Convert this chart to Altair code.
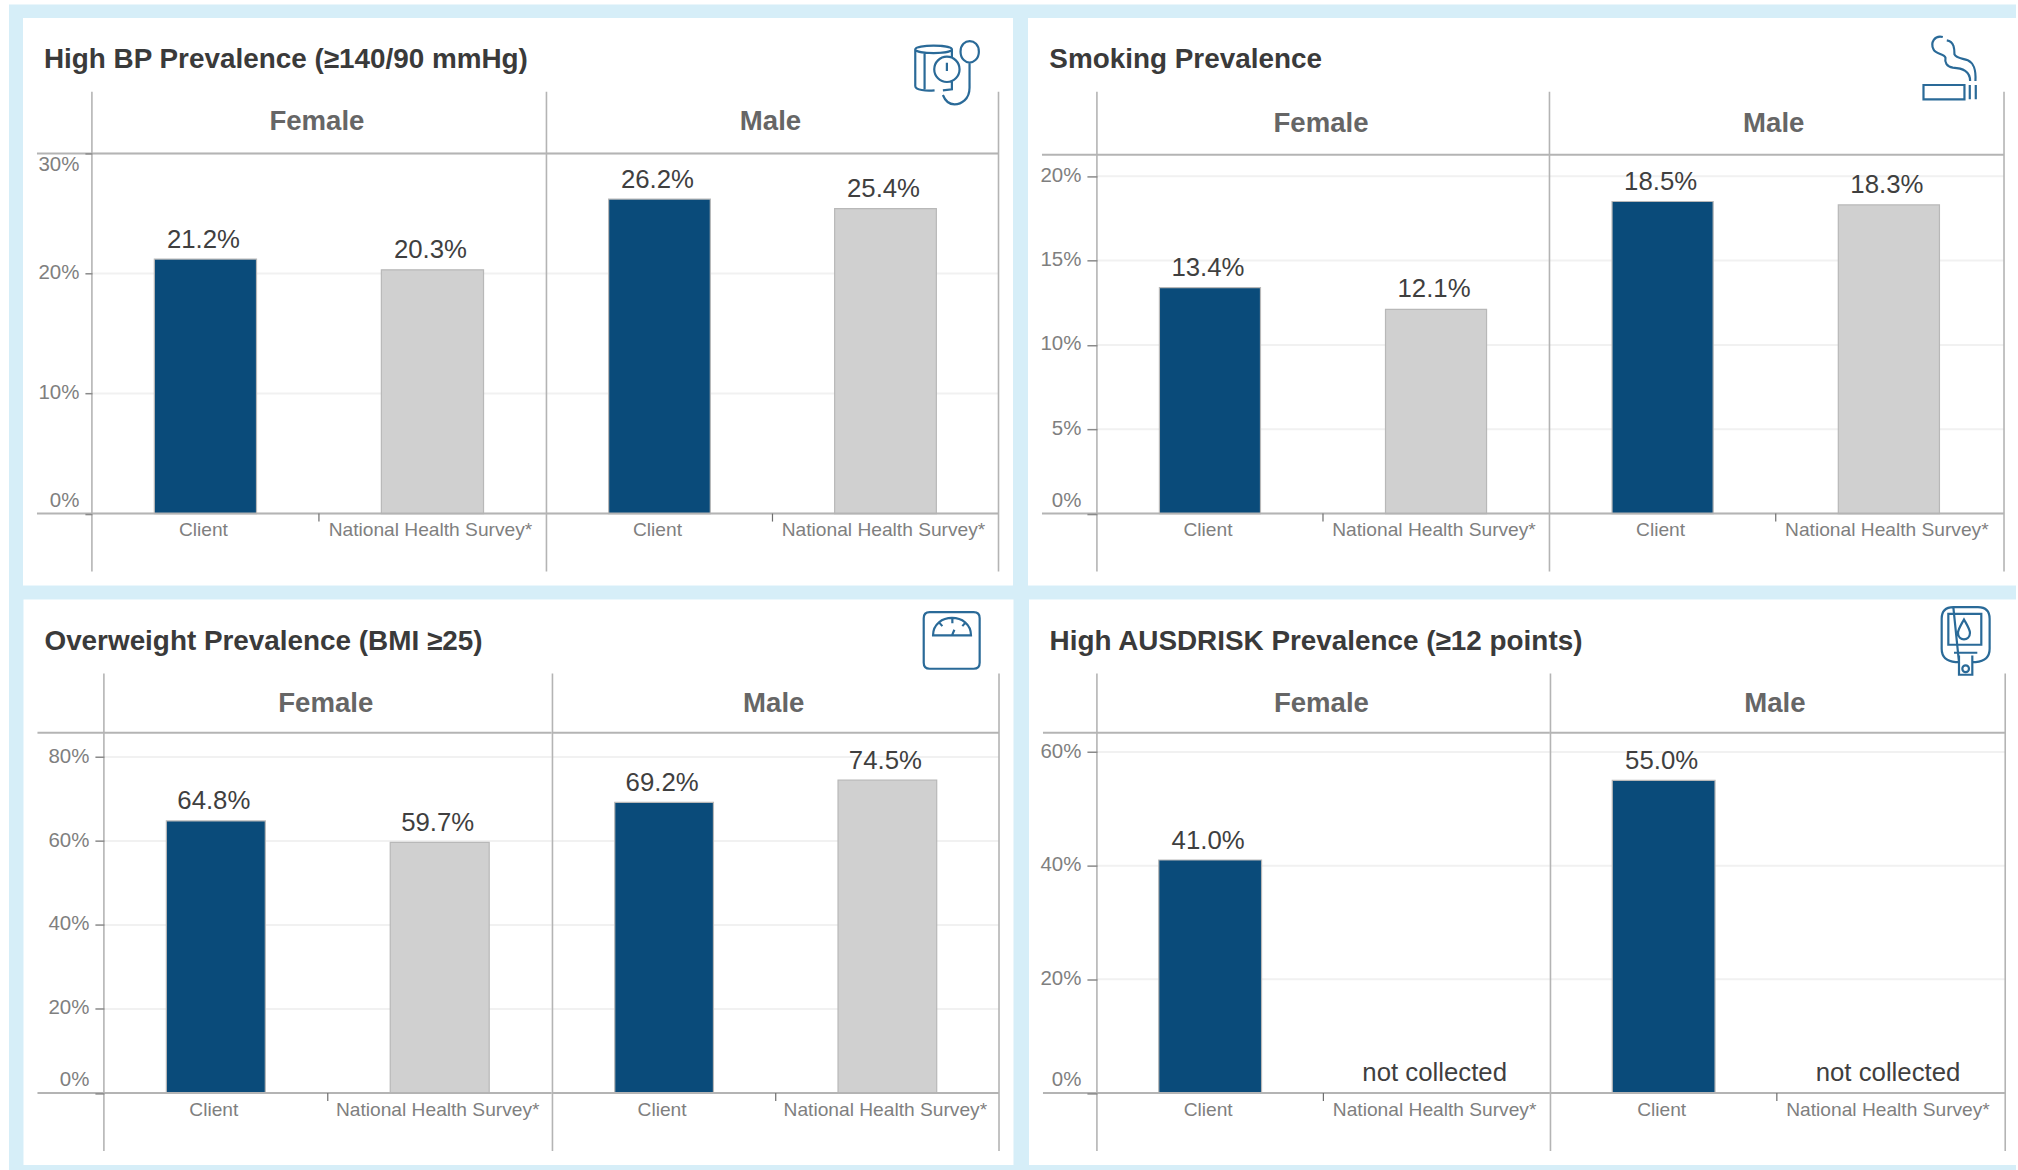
import altair as alt
import pandas as pd

FONT = "Liberation Sans"
SOURCES = ["Client", "National Health Survey*"]
SEXES = ["Female", "Male"]

# Prevalence values (%), Client then National Health Survey, per sex
bp_female = [21.2, 20.3]
bp_male = [26.2, 25.4]
smoking_female = [13.4, 12.1]
smoking_male = [18.5, 18.3]
overweight_female = [64.8, 59.7]
overweight_male = [69.2, 74.5]
ausdrisk_female = [41.0, None]
ausdrisk_male = [55.0, None]

bp_ticks = [0, 10, 20, 30]
smoking_ticks = [0, 5, 10, 15, 20]
overweight_ticks = [0, 20, 40, 60, 80]
ausdrisk_ticks = [0, 20, 40, 60]

BLUE_BG = "#D6EEF8"
NAVY = "#0A4B7A"
GREY = "#D0D0D0"
BAR_EDGE = "#B8B8B8"
LINE = "#B4B4B4"
GRID = "#F1F1F1"
ICON = "#2A6A98"
INK = "#3A3A3A"

ROW_H = 360.5
ROW1_TOP = 152.5
ROW2_TOP = 732.4
TITLE_SIZE = 27.9
one = pd.DataFrame({"k": [0]})

# Line-art icons, each path in its own local units (scaled to a third by the symbol size)
ICON_BP = [
    "M187 110 L187 85 C187 70 77 70 77 85 L77 195 C77 208 110 210 135 208 "
    "M77 85 C77 100 187 100 187 85 M105 95 L105 205 M160 208 L187 205 L187 182 "
    "M134 145 A38 38 0 1 1 210 145 A38 38 0 1 1 134 145 M172 125 L172 150 "
    "M213 92 C213 50 268 50 268 92 C268 115 250 125 240 125 C230 125 213 115 213 92 "
    "M240 125 L240 200 C240 235 215 250 195 250 C175 250 165 235 160 222"
]
ICON_SMOKE = [
    "M100 48 C75 42 62 65 72 85 C78 100 105 98 108 110 C105 125 112 137 130 140 "
    "C160 142 182 150 182 180 "
    "M112 58 C135 62 135 85 135 100 C140 112 160 112 175 118 C192 126 200 142 198 180 "
    "M42 192 L165 192 L165 235 L42 235 Z M181 192 L181 235 M199 192 L199 235"
]
ICON_SCALE = [
    "M88 35 L220 35 C232 35 238 42 238 53 L238 187 C238 198 232 205 220 205 L88 205 "
    "C76 205 70 198 70 187 L70 53 C70 42 76 35 88 35 Z "
    "M98 105 C98 35 212 35 212 105 Z M156 55 L156 68 M118 68 L126 77 M194 68 L186 77 "
    "M155 105 L162 88"
]
ICON_METER = [
    "M98 35 L172 35 C195 35 207 48 207 70 L207 160 C207 185 190 198 165 200 L155 200 "
    "M115 200 L105 200 C80 198 63 185 63 160 L63 70 C63 48 75 35 98 35 Z "
    "M83 55 L182 55 L182 148 L83 148 Z "
    "M130 72 C120 90 112 102 112 112 C112 138 148 138 148 112 C148 102 140 90 130 72 Z "
    "M100 172 L170 172 M115 180 L115 238 L155 238 L155 180 "
    "M125 220 A10 10 0 1 1 145 220 A10 10 0 1 1 125 220"
]


def line(x, x2, y, color=LINE, width=2.0):
    return alt.Chart(one).mark_rule(color=color, strokeWidth=width).encode(
        x=alt.value(x), x2=alt.value(x2), y=alt.value(y)
    )


def vline(x, y, y2, color=LINE, width=1.6):
    return alt.Chart(one).mark_rule(color=color, strokeWidth=width).encode(
        x=alt.value(x), y=alt.value(y), y2=alt.value(y2)
    )


def box(x, x2, y, y2, color):
    return alt.Chart(one).mark_rect(color=color, strokeWidth=0).encode(
        x=alt.value(x), x2=alt.value(x2), y=alt.value(y), y2=alt.value(y2)
    )


def label(text, x, y, size, color, bold=True, align="left", baseline="alphabetic"):
    return alt.Chart(pd.DataFrame({"t": [text]})).mark_text(
        font=FONT, fontSize=size, color=color, align=align, baseline=baseline,
        fontWeight="bold" if bold else "normal",
    ).encode(x=alt.value(x), y=alt.value(y), text="t:N")


def cell(values, sex, width, top, ticks, tick_size, flush_top, band, left_edge=None,
         strip_dy=0.0, row_top=ROW1_TOP, span=(90.7, 571.0), strip_y=121.0,
         under=(), over=(), right_edge=False, edge_extra=0.0, x_pad=6.5, text_dy=-11.5):
    df = pd.DataFrame({
        "source": SOURCES,
        "value": values,
        "pos": [0 if v is None else v for v in values],
        "text": ["not collected" if v is None else f"{v:.1f}%" for v in values],
    })
    top_test = f"datum.value==={ticks[-1]}?'top':" if flush_top else ""
    top_shift = f"datum.value==={ticks[-1]}?1:" if flush_top else ""
    y_axis = None
    if left_edge is not None:
        y_axis = alt.Axis(
            values=ticks, title=None, grid=False, domain=False, ticks=True,
            tickSize=tick_size, tickColor="#8A8A8A", tickWidth=1.5,
            labelExpr="datum.value+'%'", labelFont=FONT, labelFontSize=20.5,
            labelColor="#7F7F7F", labelPadding=6, zindex=1,
            labelBaseline=alt.expr(f"datum.value===0?'bottom':{top_test}'middle'"),
            labelOffset=alt.expr(f"datum.value===0?-3:{top_shift}-1"),
        )
    y_scale = alt.Scale(domain=[0, top], nice=False)
    x_enc = alt.X(
        "source:N", sort=SOURCES,
        scale=alt.Scale(domain=SOURCES, paddingInner=0, paddingOuter=0),
        axis=alt.Axis(
            title=None, domain=False, ticks=False, labelAngle=0, labelOverlap=False,
            labelFont=FONT, labelFontSize=19.2, labelColor="#7F7F7F", labelPadding=x_pad,
            labelOffset=-2, labelLimit=400, zindex=1,
        ),
    )

    grid = alt.Chart(pd.DataFrame({"tick": ticks})).mark_rule(
        color=GRID, strokeWidth=2
    ).encode(
        y=alt.Y("tick:Q", scale=y_scale, axis=y_axis),
        x=alt.value(0), x2=alt.value(width + edge_extra),
    )
    bars = alt.Chart(df).mark_bar(
        width={"band": band}, stroke=BAR_EDGE, strokeWidth=1.2
    ).encode(
        x=x_enc,
        y=alt.Y("value:Q", scale=y_scale, axis=y_axis),
        color=alt.Color("source:N", scale=alt.Scale(domain=SOURCES, range=[NAVY, GREY]), legend=None),
    )
    texts = alt.Chart(df).mark_text(
        font=FONT, fontSize=25.8, color="#3F3F3F", baseline="alphabetic", dy=text_dy, dx=-2
    ).encode(
        x=x_enc,
        y=alt.Y("pos:Q", scale=y_scale, axis=y_axis),
        text="text:N",
    )

    # Frame: strip separator, baseline, facet edges and the mid-panel tick below the baseline
    x_start = 0 if left_edge is None else left_edge
    frame = [
        line(x_start, width + edge_extra, strip_dy),
        line(x_start, width + edge_extra, ROW_H),
        vline(0, span[0] - row_top, span[1] - row_top),
        vline(width / 2, ROW_H, ROW_H + 8, color="#6E6E6E", width=1.2),
    ]
    if right_edge:
        frame.append(vline(width + edge_extra, span[0] - row_top, span[1] - row_top))
    strip = label(sex, width / 2 - 2, strip_y - row_top, 27.6, "#666666", align="center", baseline="middle")

    return alt.layer(*under, grid, bars, texts, *frame, strip, *over).properties(
        width=width, height=ROW_H
    )


def icon(paths, x, y):
    return [
        alt.Chart(one).mark_point(
            shape=p, size=4 / 9, filled=False, stroke=ICON, strokeWidth=2.2, opacity=1
        ).encode(x=alt.value(x), y=alt.value(y))
        for p in paths
    ]


def spacer(width):
    return alt.Chart(one).mark_point(opacity=0, size=1).encode(
        x=alt.value(0), y=alt.value(0)
    ).properties(width=width, height=ROW_H)


# Page backdrop lives in the first cell so the drawing spans the whole page
page = [
    box(-92, 1926, -ROW1_TOP, 1170 - ROW1_TOP, "#FFFFFF"),
    box(9 - 92, 1926, 3.5 - ROW1_TOP, 1170 - ROW1_TOP, BLUE_BG),
    box(23 - 92, 1014 - 92, 17 - ROW1_TOP, 585 - ROW1_TOP, "#FFFFFF"),
    label("High BP Prevalence (≥140/90 mmHg)", 44 - 92, 67 - ROW1_TOP, TITLE_SIZE, INK),
]
p1f = cell(bp_female, "Female", 454.5, 30, bp_ticks, 7, True, 0.45, left_edge=37 - 92, under=page)
p1m = cell(bp_male, "Male", 452.5, 30, bp_ticks, 7, True, 0.45, right_edge=True,
           over=icon(ICON_BP, 890 - 546.5, 20 - ROW1_TOP))

p2_under = [
    box(1028 - 1097, 2018 - 1097, 17 - ROW1_TOP, 585 - ROW1_TOP, "#FFFFFF"),
    label("Smoking Prevalence", 1049.4 - 1097, 67 - ROW1_TOP, TITLE_SIZE, INK),
]
p2f = cell(smoking_female, "Female", 452.6, 21.35, smoking_ticks, 10, False, 0.447,
           left_edge=1042 - 1097, strip_dy=1.3, strip_y=123.5, under=p2_under, text_dy=-12)
p2m = cell(smoking_male, "Male", 453.0, 21.35, smoking_ticks, 10, False, 0.447, strip_dy=1.3,
           strip_y=123.5, right_edge=True, edge_extra=2.0, text_dy=-12,
           over=icon(ICON_SMOKE, 1910 - 1549.6, 20 - ROW1_TOP))

ROW2_SPAN = (673.0, 1151.0)
p3_under = [
    box(23 - 103.5, 1014 - 103.5, 599 - ROW2_TOP, 1165 - ROW2_TOP, "#FFFFFF"),
    label("Overweight Prevalence (BMI ≥25)", 44 - 103.5, 650 - ROW2_TOP, TITLE_SIZE, INK),
]
p3f = cell(overweight_female, "Female", 448.2, 85.8, overweight_ticks, 9, False, 0.442,
           left_edge=37 - 103.5, row_top=ROW2_TOP, span=ROW2_SPAN, strip_y=703.4, under=p3_under, x_pad=8)
p3m = cell(overweight_male, "Male", 447.0, 85.8, overweight_ticks, 9, False, 0.442,
           row_top=ROW2_TOP, span=ROW2_SPAN, strip_y=703.4, right_edge=True, x_pad=8,
           over=icon(ICON_SCALE, 900 - 551.7, 600 - ROW2_TOP))

P4_X0 = 1096.0
p4_under = [
    box(1028 - P4_X0, 2018 - P4_X0, 599 - ROW2_TOP, 1165 - ROW2_TOP, "#FFFFFF"),
    label("High AUSDRISK Prevalence (≥12 points)", 1048.6 - P4_X0, 650 - ROW2_TOP, TITLE_SIZE, INK),
]
p4f = cell(ausdrisk_female, "Female", 453.4, 63.4, ausdrisk_ticks, 10, False, 0.454,
           left_edge=1042 - P4_X0, row_top=ROW2_TOP, span=ROW2_SPAN, strip_y=703.4, under=p4_under, x_pad=8)
p4m = cell(ausdrisk_male, "Male", 453.2, 63.4, ausdrisk_ticks, 10, False, 0.454,
           row_top=ROW2_TOP, span=ROW2_SPAN, strip_y=703.4, right_edge=True, edge_extra=2.0, x_pad=8,
           over=icon(ICON_METER, 1920 - (P4_X0 + 453.4), 595 - ROW2_TOP))

row1 = alt.hconcat(p1f, p1m, spacer(98.0), p2f, p2m, spacing=0, bounds="flush")
row2 = alt.hconcat(spacer(11.5), p3f, p3m, spacer(P4_X0 - 998.7), p4f, p4m, spacing=0, bounds="flush")

# Flush layout gives a nested row no height of its own, so the spacing is the full row pitch
chart = alt.vconcat(row1, row2, spacing=ROW2_TOP - ROW1_TOP, bounds="flush").properties(
    padding=0, background="#FFFFFF"
).configure_view(stroke=None)

chart.save("out.html", embed_options={"renderer": "svg", "actions": False})
